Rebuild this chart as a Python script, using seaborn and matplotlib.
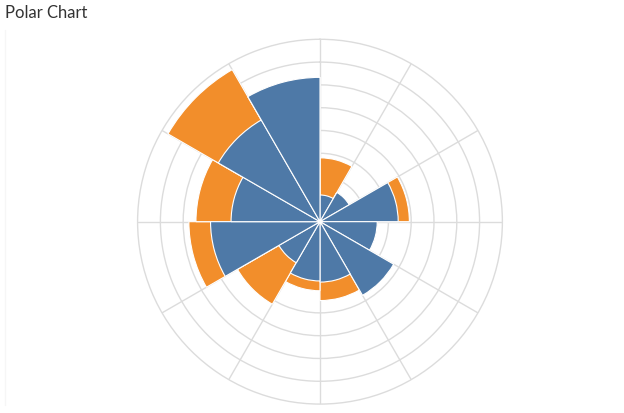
import numpy as np
import pandas as pd
import matplotlib.pyplot as plt
import seaborn as sns
from matplotlib.lines import Line2D

# Twelve 30-degree sectors, clockwise from 12 o'clock
sectors = ["S1", "S2", "S3", "S4", "S5", "S6", "S7", "S8", "S9", "S10", "S11", "S12"]
inner_values = [1.17, 1.48, 3.43, 2.51, 3.73, 2.65, 2.60, 2.08, 4.80, 3.90, 5.15, 6.33]
outer_values = [1.63, 0.00, 0.49, 0.00, 0.00, 0.81, 0.43, 2.10, 0.95, 1.54, 2.55, 0.00]
ring_ticks = [1, 2, 3, 4, 5, 6, 7]
r_max = 8

BLUE = "#4e79a7"
ORANGE = "#f28e2b"
GRID = "#dcdcdc"


def main():
    df = pd.DataFrame({
        "sector": sectors,
        "theta": np.deg2rad(np.arange(len(sectors)) * 30 + 15),
        "inner": inner_values,
    })
    df["total"] = df["inner"] + np.array(outer_values)

    sns.set_theme(style="white")
    fig = plt.figure(figsize=(6.24, 4.13), dpi=100)
    ax = fig.add_axes([0.2205, 0.0216, 0.5846, 0.8833], projection="polar")
    ax.set_theta_zero_location("N")
    ax.set_theta_direction(-1)

    # outer (orange) drawn first as the stack total, blue on top
    sns.barplot(data=df, x="theta", y="total", native_scale=True, width=1.0,
                color=ORANGE, saturation=1, errorbar=None,
                edgecolor="white", linewidth=0.8, ax=ax)
    sns.barplot(data=df, x="theta", y="inner", native_scale=True, width=1.0,
                color=BLUE, saturation=1, errorbar=None,
                edgecolor="white", linewidth=0.8, ax=ax)

    ax.set_ylim(0, r_max)
    ax.set_xlim(0, 2 * np.pi)
    ax.set_xticks(np.deg2rad(np.arange(0, 360, 30)))
    ax.set_xticklabels([])
    ax.set_yticks(ring_ticks)
    ax.set_yticklabels([])
    ax.set_xlabel("")
    ax.set_ylabel("")
    ax.set_axisbelow(True)
    ax.grid(True, color=GRID, linewidth=1)
    ax.spines["polar"].set_color(GRID)
    ax.spines["polar"].set_linewidth(1)

    fig.text(5 / 624, 1 - 13.5 / 413, "Polar Chart", fontsize=12, color="#333333",
             family="Lato", ha="left", va="center")
    fig.add_artist(Line2D([5 / 624, 5 / 624], [8 / 413, 1 - 30 / 413],
                          color="#f6f6f6", linewidth=1))

    fig.savefig("out.png", dpi=100)


if __name__ == "__main__":
    main()
